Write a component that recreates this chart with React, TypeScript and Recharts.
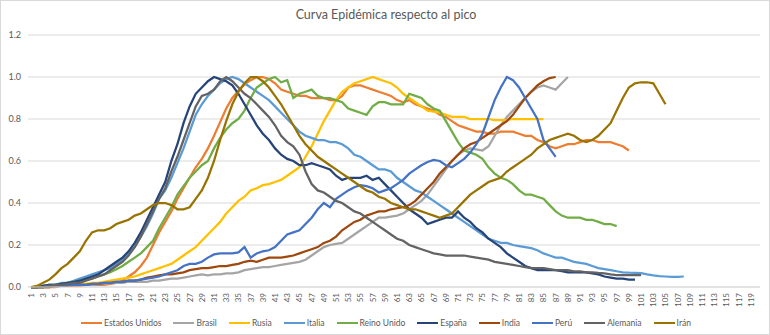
import { LineChart, Line, XAxis, YAxis, CartesianGrid } from "recharts";

// dias desde el inicio del brote (eje de categorias 1..120)
const DAYS = Array.from({ length: 120 }, (_, i) => i + 1);
const Y_TICKS = [0, 0.2, 0.4, 0.6, 0.8, 1.0, 1.2];

// casos normalizados respecto al pico de cada pais
const ESTADOS_UNIDOS = [
  0, 0, 0, 0, 0, 0.005, 0.005, 0.005, 0.005, 0.01, 0.01, 0.01,
  0.01, 0.015, 0.02, 0.03, 0.05, 0.07, 0.1, 0.14, 0.2, 0.26, 0.31, 0.36,
  0.42, 0.47, 0.52, 0.57, 0.61, 0.66, 0.72, 0.785, 0.85, 0.9, 0.935, 0.965,
  0.985, 1.0, 1.0, 0.99, 0.97, 0.94, 0.93, 0.92, 0.91, 0.91, 0.9, 0.9,
  0.9, 0.89, 0.89, 0.91, 0.95, 0.96, 0.96, 0.95, 0.94, 0.93, 0.92, 0.91,
  0.89, 0.88, 0.89, 0.87, 0.86, 0.85, 0.84, 0.82, 0.81, 0.79, 0.77, 0.76,
  0.75, 0.74, 0.74, 0.73, 0.73, 0.74, 0.74, 0.74, 0.73, 0.72, 0.72, 0.7,
  0.69, 0.67, 0.66, 0.67, 0.68, 0.68, 0.69, 0.7, 0.7, 0.69, 0.69, 0.69,
  0.68, 0.67, 0.65,
];
const BRASIL = [
  0, 0, 0, 0, 0.005, 0.005, 0.005, 0.01, 0.01, 0.01, 0.01, 0.015,
  0.015, 0.02, 0.02, 0.02, 0.025, 0.025, 0.025, 0.025, 0.03, 0.03, 0.035, 0.04,
  0.04, 0.045, 0.05, 0.055, 0.06, 0.055, 0.06, 0.06, 0.065, 0.065, 0.07, 0.08,
  0.085, 0.09, 0.095, 0.095, 0.1, 0.105, 0.11, 0.115, 0.12, 0.13, 0.15, 0.17,
  0.19, 0.2, 0.205, 0.21, 0.23, 0.25, 0.27, 0.29, 0.31, 0.33, 0.33, 0.335,
  0.34, 0.35, 0.37, 0.39, 0.41, 0.44, 0.48, 0.52, 0.56, 0.6, 0.63, 0.65,
  0.66, 0.655, 0.65, 0.67, 0.72, 0.77, 0.81, 0.84, 0.87, 0.9, 0.93, 0.95,
  0.96, 0.95, 0.94, 0.97, 1.0,
];
const RUSIA = [
  0, 0, 0, 0.005, 0.005, 0.01, 0.01, 0.01, 0.015, 0.015, 0.02, 0.02,
  0.025, 0.03, 0.035, 0.04, 0.045, 0.05, 0.06, 0.07, 0.08, 0.09, 0.1, 0.11,
  0.13, 0.15, 0.17, 0.19, 0.22, 0.25, 0.28, 0.31, 0.35, 0.38, 0.41, 0.43,
  0.46, 0.47, 0.485, 0.49, 0.5, 0.51, 0.53, 0.55, 0.57, 0.62, 0.67, 0.73,
  0.79, 0.84, 0.89, 0.93, 0.95, 0.97, 0.98, 0.99, 1.0, 0.99, 0.98, 0.97,
  0.95, 0.92, 0.9, 0.88, 0.86, 0.84, 0.835, 0.83, 0.82, 0.81, 0.81, 0.81,
  0.8, 0.8, 0.8, 0.8, 0.795, 0.795, 0.795, 0.8, 0.8, 0.8, 0.8, 0.8,
  0.8,
];
const ITALIA = [
  0, 0, 0.005, 0.01, 0.01, 0.02, 0.02, 0.03, 0.04, 0.05, 0.06, 0.07,
  0.08, 0.09, 0.11, 0.13, 0.16, 0.19, 0.24, 0.29, 0.35, 0.42, 0.46, 0.52,
  0.59, 0.66, 0.74, 0.82, 0.87, 0.91, 0.94, 0.97, 0.99, 1.0, 0.99, 0.97,
  0.95, 0.93, 0.91, 0.89, 0.86, 0.83, 0.8, 0.77, 0.74, 0.72, 0.71, 0.7,
  0.7, 0.69, 0.69, 0.68, 0.66, 0.63, 0.62, 0.6, 0.58, 0.56, 0.56, 0.55,
  0.52, 0.5, 0.48, 0.46, 0.45, 0.43, 0.41, 0.39, 0.37, 0.35, 0.33, 0.31,
  0.29, 0.27, 0.25, 0.23, 0.22, 0.21, 0.21, 0.2, 0.195, 0.19, 0.185, 0.175,
  0.16, 0.15, 0.14, 0.14, 0.13, 0.12, 0.115, 0.11, 0.1, 0.09, 0.085, 0.08,
  0.075, 0.07, 0.068, 0.067, 0.066, 0.06, 0.055, 0.052, 0.05, 0.048, 0.048, 0.05,
];
const REINO_UNIDO = [
  0, 0, 0.005, 0.01, 0.01, 0.015, 0.02, 0.025, 0.03, 0.035, 0.04, 0.05,
  0.06, 0.07, 0.085, 0.1, 0.12, 0.14, 0.16, 0.19, 0.22, 0.28, 0.33, 0.38,
  0.44, 0.48, 0.52, 0.55, 0.58, 0.6, 0.66, 0.71, 0.75, 0.78, 0.8, 0.84,
  0.9, 0.95, 0.97, 0.99, 1.0, 0.975, 0.985, 0.9, 0.92, 0.93, 0.94, 0.91,
  0.9, 0.9, 0.89, 0.88, 0.85, 0.84, 0.83, 0.82, 0.86, 0.88, 0.88, 0.87,
  0.87, 0.87, 0.92, 0.91, 0.9, 0.87, 0.85, 0.84, 0.79, 0.74, 0.69, 0.65,
  0.64, 0.63, 0.61, 0.57, 0.54, 0.52, 0.51, 0.49, 0.46, 0.44, 0.44, 0.43,
  0.42, 0.39, 0.36, 0.34, 0.33, 0.33, 0.33, 0.32, 0.32, 0.31, 0.3, 0.3,
  0.29,
];
const ESPANA = [
  0, 0, 0.005, 0.01, 0.01, 0.015, 0.02, 0.025, 0.03, 0.04, 0.05, 0.06,
  0.08, 0.1, 0.12, 0.14, 0.17, 0.21, 0.26, 0.32, 0.38, 0.44, 0.5, 0.6,
  0.68, 0.78, 0.86, 0.92, 0.95, 0.98, 1.0, 0.99, 0.98, 0.96, 0.92, 0.87,
  0.82, 0.77, 0.73, 0.7, 0.66, 0.63, 0.61, 0.6, 0.58, 0.58, 0.59, 0.58,
  0.57, 0.56, 0.53, 0.51, 0.52, 0.52, 0.52, 0.53, 0.51, 0.52, 0.49, 0.46,
  0.43, 0.4, 0.37, 0.35, 0.33, 0.3, 0.31, 0.32, 0.33, 0.33, 0.36, 0.33,
  0.31, 0.28, 0.26, 0.23, 0.21, 0.19, 0.16, 0.14, 0.12, 0.1, 0.09, 0.08,
  0.08, 0.08, 0.08, 0.075, 0.07, 0.07, 0.07, 0.07, 0.065, 0.06, 0.05, 0.045,
  0.04, 0.04, 0.035, 0.035,
];
const INDIA = [
  0, 0, 0, 0, 0.005, 0.005, 0.005, 0.01, 0.01, 0.01, 0.015, 0.015,
  0.02, 0.02, 0.025, 0.025, 0.03, 0.03, 0.035, 0.045, 0.05, 0.055, 0.06, 0.06,
  0.065, 0.07, 0.08, 0.085, 0.09, 0.09, 0.095, 0.1, 0.1, 0.105, 0.11, 0.12,
  0.125, 0.12, 0.13, 0.14, 0.14, 0.14, 0.145, 0.15, 0.16, 0.17, 0.18, 0.19,
  0.21, 0.22, 0.24, 0.27, 0.29, 0.31, 0.32, 0.34, 0.35, 0.36, 0.36, 0.37,
  0.375, 0.38, 0.39, 0.41, 0.44, 0.47, 0.5, 0.54, 0.57, 0.6, 0.63, 0.66,
  0.68, 0.69, 0.71, 0.73, 0.75, 0.77, 0.79, 0.82, 0.86, 0.9, 0.93, 0.96,
  0.98, 0.995, 1.0,
];
const PERU = [
  0, 0, 0, 0.005, 0.005, 0.005, 0.01, 0.01, 0.01, 0.01, 0.015, 0.015,
  0.02, 0.02, 0.025, 0.025, 0.03, 0.03, 0.035, 0.04, 0.045, 0.05, 0.06, 0.07,
  0.08, 0.1, 0.11, 0.11, 0.12, 0.14, 0.155, 0.16, 0.16, 0.16, 0.165, 0.19,
  0.14, 0.16, 0.17, 0.175, 0.19, 0.22, 0.25, 0.26, 0.27, 0.3, 0.33, 0.37,
  0.4, 0.38, 0.42, 0.44, 0.46, 0.475, 0.485, 0.48, 0.47, 0.45, 0.46, 0.47,
  0.49, 0.51, 0.54, 0.56, 0.58, 0.595, 0.605, 0.6, 0.58, 0.57, 0.59, 0.61,
  0.64, 0.68, 0.73, 0.81, 0.89, 0.95, 1.0, 0.985, 0.95, 0.9, 0.85, 0.8,
  0.7, 0.66, 0.62,
];
const ALEMANIA = [
  0, 0, 0, 0.005, 0.01, 0.01, 0.015, 0.02, 0.02, 0.03, 0.04, 0.05,
  0.06, 0.08, 0.1, 0.12, 0.15, 0.19, 0.24, 0.3, 0.36, 0.42, 0.47, 0.55,
  0.62, 0.7, 0.78, 0.86, 0.91, 0.92, 0.94, 0.98, 1.0, 0.98, 0.95, 0.92,
  0.9, 0.87, 0.84, 0.81, 0.77, 0.72, 0.69, 0.67, 0.63, 0.55, 0.49, 0.46,
  0.45, 0.43, 0.41, 0.4, 0.38, 0.36, 0.35, 0.33, 0.31, 0.29, 0.27, 0.25,
  0.23, 0.22, 0.2, 0.19, 0.18, 0.17, 0.16, 0.155, 0.15, 0.15, 0.15, 0.15,
  0.145, 0.14, 0.135, 0.13, 0.12, 0.115, 0.11, 0.105, 0.1, 0.095, 0.09, 0.09,
  0.09, 0.085, 0.08, 0.08, 0.08, 0.075, 0.075, 0.07, 0.07, 0.067, 0.065, 0.06,
  0.057, 0.057, 0.057, 0.057, 0.057,
];
const IRAN = [
  0, 0.005, 0.02, 0.035, 0.06, 0.09, 0.11, 0.14, 0.17, 0.22, 0.26, 0.27,
  0.27, 0.28, 0.3, 0.31, 0.32, 0.34, 0.35, 0.37, 0.39, 0.4, 0.4, 0.39,
  0.37, 0.37, 0.38, 0.42, 0.46, 0.52, 0.6, 0.7, 0.79, 0.87, 0.93, 0.97,
  1.0, 1.0, 0.98, 0.95, 0.91, 0.87, 0.82, 0.77, 0.72, 0.68, 0.65, 0.62,
  0.6, 0.58, 0.56, 0.54, 0.52, 0.5, 0.48, 0.46, 0.45, 0.43, 0.42, 0.4,
  0.39, 0.38, 0.37, 0.37, 0.36, 0.35, 0.34, 0.33, 0.34, 0.35, 0.38, 0.41,
  0.44, 0.46, 0.48, 0.5, 0.51, 0.52, 0.55, 0.57, 0.59, 0.61, 0.63, 0.66,
  0.68, 0.7, 0.71, 0.72, 0.73, 0.72, 0.7, 0.69, 0.7, 0.72, 0.75, 0.78,
  0.84, 0.9, 0.95, 0.97, 0.975, 0.975, 0.97, 0.92, 0.87,
];

const SERIES = [
  { key: "eeuu", name: "Estados Unidos", color: "#ED7D31", values: ESTADOS_UNIDOS },
  { key: "brasil", name: "Brasil", color: "#A5A5A5", values: BRASIL },
  { key: "rusia", name: "Rusia", color: "#FFC000", values: RUSIA },
  { key: "italia", name: "Italia", color: "#5B9BD5", values: ITALIA },
  { key: "reino", name: "Reino Unido", color: "#70AD47", values: REINO_UNIDO },
  { key: "espana", name: "España", color: "#264478", values: ESPANA },
  { key: "india", name: "India", color: "#9E480E", values: INDIA },
  { key: "peru", name: "Perú", color: "#4472C4", values: PERU },
  { key: "alemania", name: "Alemania", color: "#636363", values: ALEMANIA },
  { key: "iran", name: "Irán", color: "#997300", values: IRAN },
];

const rows = DAYS.map((d, i) => {
  const row: Record<string, number | null> = { day: d };
  SERIES.forEach((s) => {
    row[s.key] = i < s.values.length ? s.values[i] : null;
  });
  return row;
});

const TEXT = "#595959";
const GRID = "#D9D9D9";

function DayTick(props: any) {
  const { x, y, payload } = props;
  return (
    <text
      x={x}
      y={y}
      transform={`rotate(-90 ${x} ${y})`}
      textAnchor="end"
      dominantBaseline="central"
      fontSize={8}
      fill={TEXT}
    >
      {payload.value}
    </text>
  );
}

export default function App() {
  return (
    <div
      style={{
        position: "absolute",
        left: 0,
        top: 0,
        width: 770,
        height: 335,
        background: "#fff",
        border: `1px solid ${GRID}`,
        boxSizing: "border-box",
        fontFamily: "Lato, 'Open Sans', sans-serif",
        overflow: "hidden",
      }}
    >
      <div
        style={{
          position: "absolute",
          top: 6,
          left: 0,
          width: 770,
          textAlign: "center",
          fontSize: 12.5,
          color: TEXT,
        }}
      >
        Curva Epidémica respecto al pico
      </div>
      <div style={{ position: "absolute", left: -1, top: -1 }}>
        <LineChart
          width={770}
          height={335}
          data={rows}
          margin={{ top: 35, right: 10, bottom: 18, left: 0 }}
        >
          <CartesianGrid vertical={false} stroke={GRID} />
          <XAxis
            dataKey="day"
            interval={1}
            tick={DayTick}
            tickLine={false}
            tickSize={0}
            tickMargin={6}
            height={30}
            axisLine={{ stroke: GRID }}
            padding={{ left: 3, right: 3 }}
          />
          <YAxis
            domain={[0, 1.2]}
            ticks={Y_TICKS}
            tickFormatter={(v: number) => v.toFixed(1)}
            width={28}
            axisLine={false}
            tickLine={false}
            tickSize={0}
            tickMargin={7}
            tick={{ fontSize: 9, fill: TEXT }}
          />
          {SERIES.map((s) => (
            <Line
              key={s.key}
              type="linear"
              dataKey={s.key}
              name={s.name}
              stroke={s.color}
              strokeWidth={2.25}
              dot={false}
              isAnimationActive={false}
            />
          ))}
        </LineChart>
      </div>
      <div
        style={{
          position: "absolute",
          top: 317,
          left: 0,
          width: 770,
          display: "flex",
          justifyContent: "center",
          gap: 12,
          fontSize: 8.5,
          color: TEXT,
        }}
      >
        {SERIES.map((s) => (
          <div key={s.key} style={{ display: "flex", alignItems: "center" }}>
            <span
              style={{
                display: "inline-block",
                width: 21,
                height: 2.5,
                background: s.color,
                marginRight: 2,
              }}
            />
            <span>{s.name}</span>
          </div>
        ))}
      </div>
    </div>
  );
}
